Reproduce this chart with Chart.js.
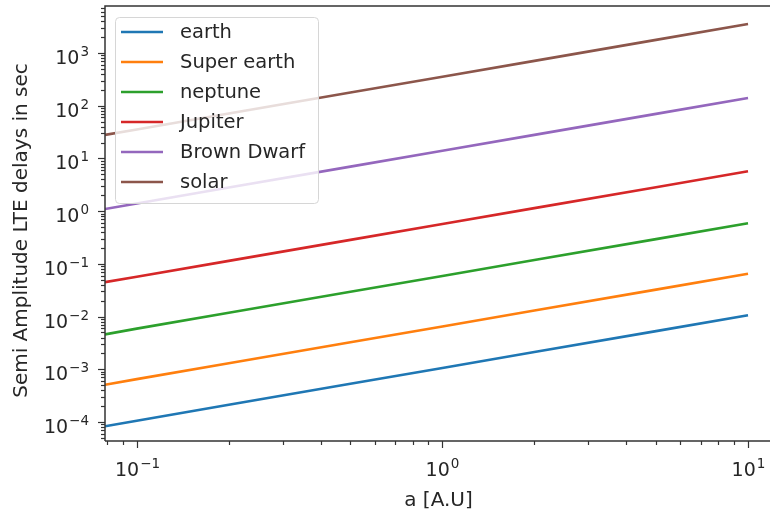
<!DOCTYPE html>
<html>
<head>
<meta charset="utf-8">
<script src="https://cdn.jsdelivr.net/npm/chart.js@4"></script>
<style>
  html, body { margin: 0; padding: 0; overflow: hidden; background: #fff; }
  #wrap { width: 790px; height: 518px; }
</style>
</head>
<body>
<div id="wrap"><canvas id="lte"></canvas></div>
<script>
// semi-major axis in AU
const aValues = [0.0787, 0.1, 0.2, 0.5, 1, 2, 5, 10];

// semi amplitude of the LTE delay (sec) for each companion type
const earthDelay      = [8.3e-5, 1.06e-4, 2.12e-4, 5.3e-4, 1.06e-3, 2.12e-3, 5.3e-3, 1.06e-2];
const superEarthDelay = [5.1e-4, 6.5e-4, 1.3e-3, 3.25e-3, 6.5e-3, 1.3e-2, 3.25e-2, 6.5e-2];
const neptuneDelay    = [4.6e-3, 5.9e-3, 1.18e-2, 2.95e-2, 5.9e-2, 0.118, 0.295, 0.59];
const jupiterDelay    = [0.045, 0.057, 0.114, 0.285, 0.57, 1.14, 2.85, 5.7];
const brownDwarfDelay = [1.1, 1.4, 2.8, 7.0, 14, 28, 70, 140];
const solarDelay      = [28, 35.5, 71, 178, 355, 710, 1775, 3550];

const seriesNames = ['earth', 'Super earth', 'neptune', 'Jupiter', 'Brown Dwarf', 'solar'];
const seriesData = [earthDelay, superEarthDelay, neptuneDelay, jupiterDelay, brownDwarfDelay, solarDelay];
const colors = ['#1f77b4', '#ff7f0e', '#2ca02c', '#d62728', '#9467bd', '#8c564b'];

// decades that get a label
const xDecades = [0.1, 1, 10];
const yDecades = [1e-4, 1e-3, 1e-2, 1e-1, 1, 10, 100, 1000];

const X_MIN = 0.0787, X_MAX = 11.98;
const Y_MIN = 4.36e-5, Y_MAX = 7800;

const xTitle = 'a [A.U]';
const yTitle = 'Semi Amplitude LTE delays in sec';

const FONT = "'DejaVu Sans', sans-serif";
const TEXT = '#262626';
const BASE_SIZE = 19, EXP_SIZE = 13.5, EXP_RISE = 8;

// exponent text for a decade value, with a real minus sign
function expText(v) {
  return String(Math.round(Math.log10(v))).replace('-', '\u2212');
}

// major + minor ticks (1..9 x 10^n) inside the range
function logTicks(decades, min, max) {
  const out = [];
  const first = decades[0] / 10;
  const all = [first].concat(decades);
  all.forEach(d => {
    for (let m = 1; m <= 9; m++) {
      const v = +(d * m).toPrecision(6);
      if (v >= min && v <= max) out.push({ value: v, major: m === 1 });
    }
  });
  return out.sort((p, q) => p.value - q.value);
}

const datasets = seriesNames.map((name, i) => ({
  label: name,
  data: aValues.map((a, j) => ({ x: a, y: seriesData[i][j] })),
  borderColor: colors[i],
  backgroundColor: colors[i],
  borderWidth: 2.6,
  pointRadius: 0,
  showLine: true,
  tension: 0
}));

// draws "10" with a raised exponent; anchor is the left end of the baseline
function drawPow(ctx, v, x, baseline) {
  ctx.font = BASE_SIZE + 'px ' + FONT;
  ctx.fillText('10', x, baseline);
  const w = ctx.measureText('10').width;
  ctx.font = EXP_SIZE + 'px ' + FONT;
  ctx.fillText(expText(v), x + w + 1, baseline - EXP_RISE);
}
function powWidth(ctx, v) {
  ctx.font = BASE_SIZE + 'px ' + FONT;
  const w = ctx.measureText('10').width;
  ctx.font = EXP_SIZE + 'px ' + FONT;
  return w + 1 + ctx.measureText(expText(v)).width;
}

// spines, tick marks, decade labels and the y title, matplotlib style
const framePlugin = {
  id: 'frame',
  afterDatasetsDraw(chart) {
    const { ctx, chartArea: ca, scales } = chart;
    ctx.save();
    ctx.strokeStyle = '#333';
    ctx.lineWidth = 1.5;
    ctx.beginPath();
    ctx.moveTo(ca.left, ca.bottom);
    ctx.lineTo(ca.left, ca.top);
    ctx.lineTo(ca.right + 20, ca.top);
    ctx.moveTo(ca.left, ca.bottom);
    ctx.lineTo(ca.right + 20, ca.bottom);
    ctx.stroke();
    ctx.lineWidth = 1.2;
    ctx.fillStyle = TEXT;
    ctx.textAlign = 'left';
    ctx.textBaseline = 'alphabetic';
    scales.x.ticks.forEach(t => {
      const px = Math.round(scales.x.getPixelForValue(t.value)) + 0.5;
      const len = t.major ? 7 : 4;
      ctx.beginPath();
      ctx.moveTo(px, ca.bottom);
      ctx.lineTo(px, ca.bottom + len);
      ctx.stroke();
      if (t.major) {
        const w = powWidth(ctx, t.value);
        drawPow(ctx, t.value, px - w / 2, ca.bottom + 35);
      }
    });
    scales.y.ticks.forEach(t => {
      const py = Math.round(scales.y.getPixelForValue(t.value)) + 0.5;
      const len = t.major ? 7 : 4;
      ctx.beginPath();
      ctx.moveTo(ca.left, py);
      ctx.lineTo(ca.left - len, py);
      ctx.stroke();
      if (t.major) {
        const w = powWidth(ctx, t.value);
        drawPow(ctx, t.value, ca.left - 16 - w, py + 10);
      }
    });

    // rotated y axis title
    ctx.translate(27, (ca.top + ca.bottom) / 2 + 7);
    ctx.rotate(-Math.PI / 2);
    ctx.font = '20px ' + FONT;
    ctx.textAlign = 'center';
    ctx.fillText(yTitle, 0, 0);
    ctx.restore();
  }
};

// legend box in the upper left of the axes
const legendPlugin = {
  id: 'boxLegend',
  afterDraw(chart) {
    const { ctx, chartArea: ca } = chart;
    const x0 = ca.left + 10, y0 = ca.top + 11, w = 203, h = 186, r = 4;
    ctx.save();
    ctx.beginPath();
    ctx.roundRect(x0 + 0.5, y0 + 0.5, w, h, r);
    ctx.fillStyle = 'rgba(255,255,255,0.8)';
    ctx.fill();
    ctx.strokeStyle = '#d6d6d6';
    ctx.lineWidth = 1;
    ctx.stroke();
    ctx.font = '19.5px ' + FONT;
    ctx.textBaseline = 'middle';
    ctx.textAlign = 'left';
    seriesNames.forEach((name, i) => {
      const y = y0 + 15 + i * 30;
      ctx.strokeStyle = colors[i];
      ctx.lineWidth = 2.6;
      ctx.beginPath();
      ctx.moveTo(x0 + 6, y);
      ctx.lineTo(x0 + 48, y);
      ctx.stroke();
      ctx.fillStyle = TEXT;
      ctx.fillText(name, x0 + 65, y + 1);
    });
    ctx.restore();
  }
};

new Chart(document.getElementById('lte'), {
  type: 'scatter',
  data: { datasets },
  options: {
    responsive: true,
    maintainAspectRatio: false,
    animation: false,
    layout: { padding: { left: 0, right: 18, top: 6, bottom: 0 } },
    plugins: {
      legend: { display: false },
      tooltip: { enabled: false }
    },
    scales: {
      x: {
        type: 'logarithmic',
        min: X_MIN,
        max: X_MAX,
        afterBuildTicks: s => { s.ticks = logTicks(xDecades, X_MIN, X_MAX); },
        afterFit: s => { s.height = 77; s.paddingLeft = 0; s.paddingRight = 0; },
        border: { display: false },
        grid: { display: false },
        ticks: { autoSkip: false, maxRotation: 0, callback: () => '' },
        title: {
          display: true,
          text: xTitle,
          color: TEXT,
          font: { family: FONT, size: 20 },
          padding: { top: 0, bottom: 5 }
        }
      },
      y: {
        type: 'logarithmic',
        min: Y_MIN,
        max: Y_MAX,
        afterBuildTicks: s => { s.ticks = logTicks(yDecades, Y_MIN, Y_MAX); },
        afterFit: s => { s.width = 105; s.paddingTop = 0; s.paddingBottom = 0; },
        border: { display: false },
        grid: { display: false },
        ticks: { autoSkip: false, callback: () => '' },
        title: { display: false }
      }
    }
  },
  plugins: [framePlugin, legendPlugin]
});
</script>
</body>
</html>
